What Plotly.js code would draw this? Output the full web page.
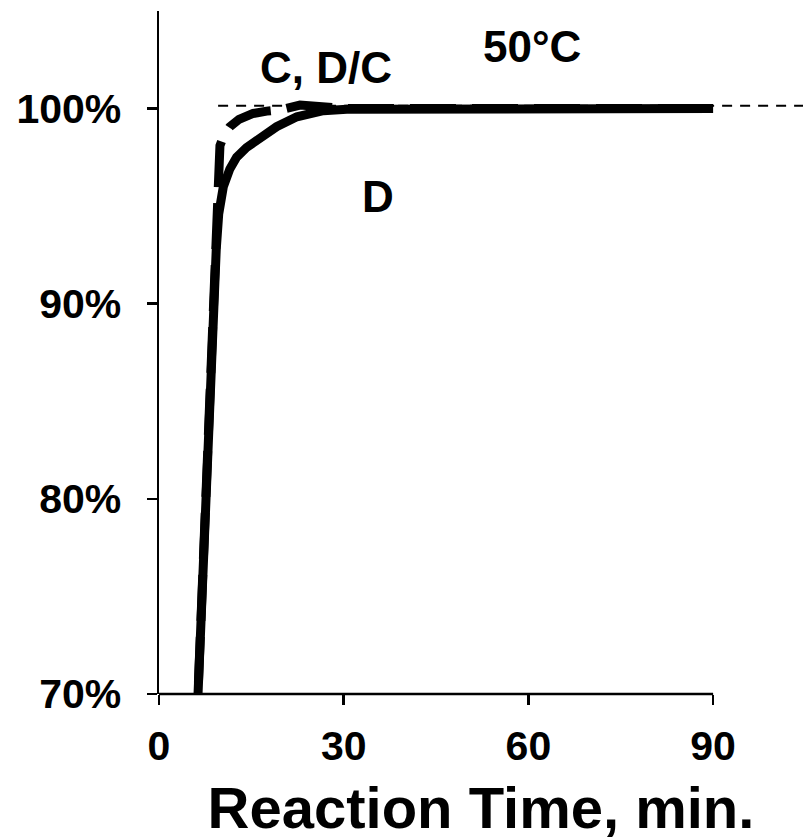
<!DOCTYPE html>
<html>
<head>
<meta charset="utf-8">
<script src="https://cdn.plot.ly/plotly-3.0.1.min.js"></script>
<style>html,body{margin:0;padding:0;background:#fff;}#chart{width:803px;height:840px;}</style>
</head>
<body>
<div id="chart"></div>
<script>
// Reaction time (min) and conversion (%)
const timeD = [6, 7, 8, 8.6, 9.3, 9.7, 10.0, 10.45, 11.5, 12.6, 14.2, 15.9, 17.5, 19.1, 22.4, 26.7, 30.5, 45, 60, 90];
const convD = [67.4, 75.6, 84.1, 88.5, 92.8, 94.6, 95.4, 96.0, 96.9, 97.5, 98.0, 98.4, 98.75, 99.07, 99.58, 99.89, 99.97, 100, 100, 100];

const timeC = [6, 7, 8, 8.6, 9.3, 9.5, 9.65, 9.9, 10.5, 11.5, 13.0, 15.3, 17.5, 19.9, 22.9, 26.7, 30.5, 45, 60, 90];
const convC = [67.4, 75.6, 84.1, 88.5, 92.8, 94.5, 96.6, 98.1, 98.6, 99.07, 99.45, 99.75, 99.87, 99.95, 100.18, 100.13, 100.0, 100, 100, 100];

const refTime = [9.6, 104.6];
const refConv = [100.15, 100.15];

const xTickVals = [0, 30, 60, 90];
const xTickText = ['0', '30', '60', '90'];
const yTickVals = [70, 80, 90, 100];
const yTickText = ['70%', '80%', '90%', '100%'];

const labels = [
  {text: 'C, D/C', x: 27.1, y: 102.1},
  {text: '50°C', x: 60.6, y: 103.2},
  {text: 'D', x: 35.6, y: 95.5}
];

const FONT = 'Liberation Sans, Arial, sans-serif';

const traces = [
  {x: refTime, y: refConv, mode: 'lines', name: 'ref',
   line: {color: '#000', width: 2, dash: '10px,8px'}, hoverinfo: 'skip'},
  {x: timeC, y: convC, mode: 'lines', name: 'C, D/C',
   line: {color: '#000', width: 9, dash: '46px,16px', shape: 'linear'}},
  {x: timeD, y: convD, mode: 'lines', name: 'D',
   line: {color: '#000', width: 9, shape: 'linear'}}
];

const layout = {
  width: 803, height: 840,
  margin: {l: 159, r: 0, t: 11, b: 146, pad: 0},
  paper_bgcolor: '#fff', plot_bgcolor: '#fff',
  showlegend: false,
  font: {family: FONT, color: '#000'},
  xaxis: {
    range: [0, 104.6], showgrid: false, zeroline: false, showline: false,
    tickvals: xTickVals, ticktext: xTickText,
    ticks: 'outside', ticklen: 10, tickwidth: 2.5, tickcolor: '#000',
    tickfont: {family: FONT, size: 41, weight: 700, color: '#000'},
    ticklabelstandoff: 6,
    title: {text: 'Reaction Time, min.', font: {family: FONT, size: 58, weight: 700, color: '#000'}, standoff: 33}
  },
  yaxis: {
    range: [70, 105], showgrid: false, zeroline: false,
    showline: true, linewidth: 2.5, linecolor: '#000',
    tickvals: yTickVals, ticktext: yTickText,
    ticks: 'outside', ticklen: 10, tickwidth: 2.5, tickcolor: '#000',
    tickfont: {family: FONT, size: 41, weight: 700, color: '#000'},
    ticklabelstandoff: 17
  },
  shapes: [
    {type: 'line', xref: 'x', yref: 'paper', x0: 0, x1: 90, y0: 0, y1: 0,
     line: {color: '#000', width: 2.5}}
  ],
  annotations: labels.map(l => ({
    text: l.text, x: l.x, y: l.y, xref: 'x', yref: 'y', showarrow: false,
    xanchor: 'center', yanchor: 'middle',
    font: {family: FONT, size: 44, weight: 700, color: '#000'}
  }))
};

Plotly.newPlot('chart', traces, layout, {staticPlot: true, displayModeBar: false});
</script>
</body>
</html>
